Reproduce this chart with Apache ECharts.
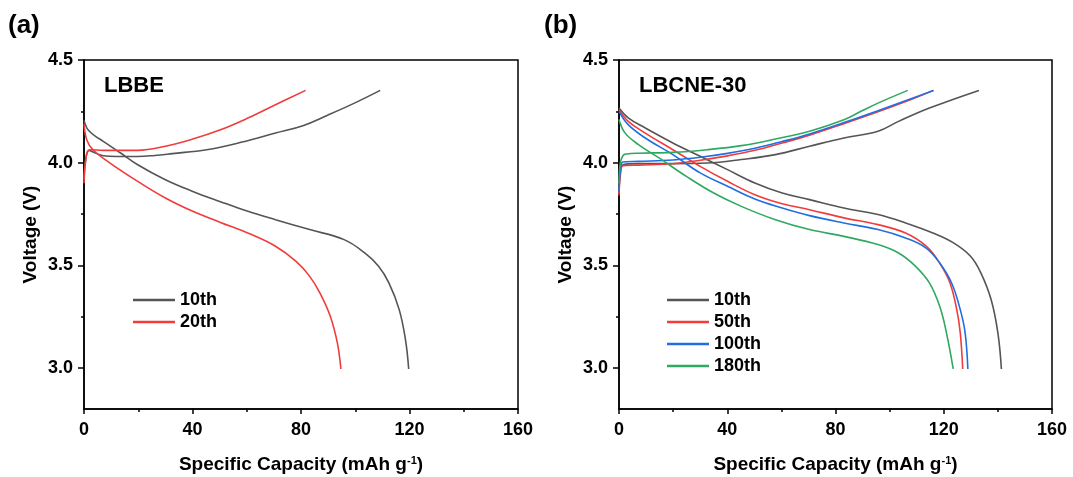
<!DOCTYPE html>
<html>
<head>
<meta charset="utf-8">
<script src="https://cdn.jsdelivr.net/npm/echarts@6/dist/echarts.min.js"></script>
<style>
html,body{margin:0;padding:0;background:#fff;}
#chart{width:1073px;height:477px;}
</style>
</head>
<body>
<div id="chart"></div>
<script>
// ---- Data (x: specific capacity mAh/g, y: voltage V) ----
const xTicks = [0, 40, 80, 120, 160];
const yTicks = [3.0, 3.5, 4.0, 4.5];
const yMinorTicks = [3.25, 3.75, 4.25];

// Panel (a) LBBE
const a10Charge = [[0,3.92],[0.5,4.0],[1.8,4.06],[4,4.048],[7.1,4.034],[12,4.03],[19.8,4.03],[26,4.035],[32.5,4.044],[45.2,4.063],[57.9,4.099],[70.6,4.144],[80.7,4.18],[89.6,4.23],[99.7,4.29],[109.2,4.352]];
const a10Discharge = [[0,4.206],[1,4.17],[2,4.153],[4,4.13],[7.1,4.104],[13.5,4.047],[19.8,3.99],[30,3.917],[40.1,3.86],[50.3,3.81],[60.4,3.763],[70.6,3.722],[83.2,3.674],[95.9,3.625],[103.5,3.56],[108.6,3.495],[112.4,3.414],[116.2,3.284],[118.5,3.139],[119.7,2.995]];
const a20Charge = [[0,3.9],[0.5,4.0],[1.2,4.05],[2.3,4.063],[7.1,4.06],[19.8,4.06],[30,4.08],[40.1,4.115],[50.3,4.16],[60.4,4.217],[70.6,4.282],[81.7,4.352]];
const a20Discharge = [[0,4.19],[1,4.112],[3.3,4.063],[9.6,3.998],[19.8,3.909],[30,3.828],[40.1,3.763],[50.3,3.709],[60.4,3.657],[70.6,3.593],[78.2,3.519],[83.2,3.446],[87,3.365],[90.8,3.252],[93.4,3.122],[94.7,2.995]];

// Panel (b) LBCNE-30
const b10Charge = [[0,3.85],[0.5,3.95],[1.5,3.99],[7.2,3.995],[19.9,3.995],[32.5,3.998],[45.2,4.015],[57.8,4.039],[70.4,4.08],[83.1,4.12],[95.7,4.153],[103.3,4.201],[114.7,4.266],[133,4.352]];
const b10Discharge = [[0,4.266],[3.4,4.218],[9.7,4.169],[19.9,4.096],[30,4.031],[40.1,3.966],[50.2,3.901],[60.3,3.852],[70.4,3.82],[83.1,3.779],[95.7,3.747],[105.9,3.706],[116,3.657],[123.6,3.609],[129.9,3.544],[133.7,3.463],[137.5,3.333],[140,3.171],[141.3,2.995]];
const b50Charge = [[0,3.84],[0.5,3.94],[1.5,3.985],[7.2,3.988],[19.9,3.995],[30,4.012],[40.1,4.033],[50.2,4.06],[60.3,4.096],[70.4,4.134],[83.1,4.19],[95.7,4.248],[108.4,4.31],[116.2,4.352]];
const b50Discharge = [[0,4.258],[3.4,4.201],[9.7,4.144],[19.9,4.063],[30,3.982],[40.1,3.909],[50.2,3.844],[60.3,3.8],[70.4,3.771],[83.1,3.731],[95.7,3.698],[105.9,3.657],[113.5,3.593],[118.5,3.511],[122.3,3.414],[124.8,3.284],[126.1,3.171],[127,2.995]];
const b100Charge = [[0,3.86],[0.5,3.96],[1.5,4.003],[7.2,4.006],[19.9,4.013],[30,4.026],[40.1,4.045],[50.2,4.07],[60.3,4.103],[70.4,4.14],[83.1,4.195],[95.7,4.253],[108.4,4.314],[116.2,4.352]];
const b100Discharge = [[0,4.25],[3.4,4.185],[9.7,4.12],[19.9,4.039],[30,3.95],[40.1,3.885],[50.2,3.823],[60.3,3.779],[70.4,3.742],[83.1,3.706],[95.7,3.674],[105.9,3.633],[113.5,3.584],[118.5,3.511],[122.9,3.414],[126.1,3.284],[127.9,3.171],[128.9,2.995]];
const b180Charge = [[0,3.9],[0.5,4.0],[1.5,4.035],[2.8,4.042],[7.2,4.046],[19.9,4.05],[32.5,4.063],[45.2,4.083],[57.8,4.115],[70.4,4.153],[83.1,4.209],[89.4,4.25],[95.7,4.29],[106.7,4.352]];
const b180Discharge = [[0,4.21],[2.2,4.145],[7.2,4.088],[14.8,4.023],[24.9,3.933],[35,3.852],[45.2,3.787],[57.8,3.722],[70.4,3.674],[83.1,3.641],[95.7,3.601],[103.3,3.56],[109.6,3.495],[114.7,3.414],[118.5,3.3],[121,3.171],[123.5,2.995]];

const legendA = ['10th', '20th'];
const legendB = ['10th', '50th', '100th', '180th'];

// ---- Styling ----
const FONT = '"Liberation Sans", Arial, sans-serif';
const C = { gray: '#555555', red: '#f03c3c', blue: '#1f6fe0', green: '#2fa862' };

const grids = [
  { left: 84, right: 555, top: 60, bottom: 68, show: true, borderColor: '#000', borderWidth: 1.5, containLabel: false, outerBoundsMode: 'none' },
  { left: 619, right: 21, top: 60, bottom: 68, show: true, borderColor: '#000', borderWidth: 1.5, containLabel: false, outerBoundsMode: 'none' }
];

function xAxisFor(gi) {
  return {
    type: 'value', gridIndex: gi, min: 0, max: 160, interval: 40,
    name: 'Specific Capacity (mAh g{sup|-1})', nameLocation: 'middle', nameGap: 46,
    nameTextStyle: { fontFamily: FONT, fontWeight: 'bold', fontSize: 19, color: '#000',
      rich: { sup: { fontFamily: FONT, fontWeight: 'bold', fontSize: 11, verticalAlign: 'top', color: '#000', padding: [0,0,8,0] } } },
    axisLine: { show: true, lineStyle: { color: '#000', width: 1.5 } },
    axisTick: { show: true, inside: false, length: 5, lineStyle: { color: '#000', width: 1.5 } },
    minorTick: { show: true, splitNumber: 2, length: 3, lineStyle: { color: '#000', width: 1.5 } },
    axisLabel: { fontFamily: FONT, fontWeight: 'bold', fontSize: 18, color: '#000', margin: 12 },
    splitLine: { show: false }
  };
}
function yAxisFor(gi) {
  return {
    type: 'value', gridIndex: gi, min: 2.8, max: 4.5,
    name: 'Voltage (V)', nameLocation: 'middle', nameGap: 44,
    nameTextStyle: { fontFamily: FONT, fontWeight: 'bold', fontSize: 19, color: '#000' },
    axisLine: { show: true, lineStyle: { color: '#000', width: 1.5 } },
    axisTick: { show: true, inside: false, length: 6, customValues: yTicks, lineStyle: { color: '#000', width: 1.5 } },
    axisLabel: { fontFamily: FONT, fontWeight: 'bold', fontSize: 18, color: '#000', margin: 11,
      customValues: yTicks, formatter: v => Number(v).toFixed(1) },
    splitLine: { show: false }
  };
}
function yMinorFor(gi) {
  return {
    type: 'value', gridIndex: gi, min: 2.8, max: 4.5, position: 'left',
    axisLine: { show: false },
    axisTick: { show: true, inside: false, length: 3, customValues: yMinorTicks, lineStyle: { color: '#000', width: 1.5 } },
    axisLabel: { show: false },
    splitLine: { show: false }
  };
}

function line(name, data, color, xi, yi) {
  return {
    type: 'line', name, data, xAxisIndex: xi, yAxisIndex: yi,
    showSymbol: false, symbol: 'none', smooth: 0.4,
    lineStyle: { color, width: 1.6 }, itemStyle: { color },
    z: 3, silent: true, animation: false
  };
}

const legendCommon = {
  orient: 'vertical', icon: 'rect', itemWidth: 42, itemHeight: 2.5, itemGap: 4,
  textStyle: { fontFamily: FONT, fontWeight: 'bold', fontSize: 18, color: '#000', padding: [0,0,0,0] },
  selectedMode: false, padding: 0
};

const option = {
  backgroundColor: '#fff',
  animation: false,
  grid: grids,
  xAxis: [xAxisFor(0), xAxisFor(1)],
  yAxis: [yAxisFor(0), yMinorFor(0), yAxisFor(1), yMinorFor(1)],
  legend: [
    Object.assign({}, legendCommon, { data: legendA, left: 133, top: 291 }),
    Object.assign({}, legendCommon, { data: legendB, left: 667, top: 291 })
  ],
  series: [
    line('10th', a10Charge, C.gray, 0, 0),
    line('10th', a10Discharge, C.gray, 0, 0),
    line('20th', a20Charge, C.red, 0, 0),
    line('20th', a20Discharge, C.red, 0, 0),
    line('10th', b10Charge, C.gray, 1, 2),
    line('10th', b10Discharge, C.gray, 1, 2),
    line('50th', b50Charge, C.red, 1, 2),
    line('50th', b50Discharge, C.red, 1, 2),
    line('100th', b100Charge, C.blue, 1, 2),
    line('100th', b100Discharge, C.blue, 1, 2),
    line('180th', b180Charge, C.green, 1, 2),
    line('180th', b180Discharge, C.green, 1, 2)
  ],
  graphic: [
    { type: 'text', left: 8, top: 13, style: { text: '(a)', fontFamily: FONT, fontWeight: 'bold', fontSize: 26, fill: '#000' } },
    { type: 'text', left: 544, top: 13, style: { text: '(b)', fontFamily: FONT, fontWeight: 'bold', fontSize: 26, fill: '#000' } },
    { type: 'text', left: 104, top: 75, style: { text: 'LBBE', fontFamily: FONT, fontWeight: 'bold', fontSize: 22, fill: '#000' } },
    { type: 'text', left: 639, top: 75, style: { text: 'LBCNE-30', fontFamily: FONT, fontWeight: 'bold', fontSize: 22, fill: '#000' } }
  ]
};

const chart = echarts.init(document.getElementById('chart'), null, { renderer: 'canvas' });
chart.setOption(option);
</script>
</body>
</html>
